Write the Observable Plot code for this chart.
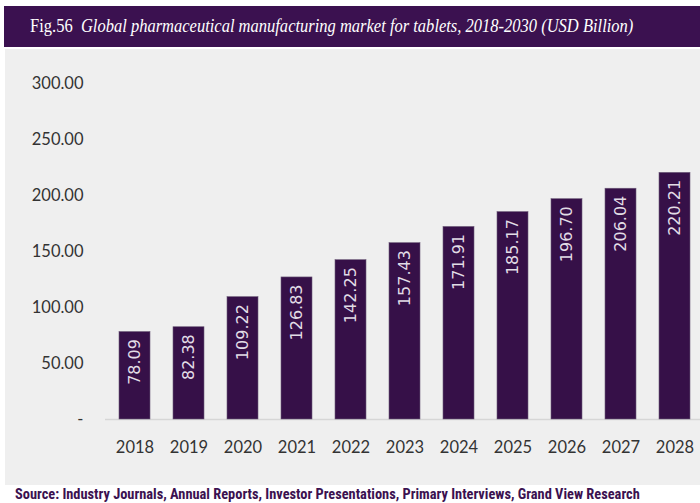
<!DOCTYPE html>
<html>
<head>
<meta charset="utf-8">
<script src="https://cdn.jsdelivr.net/npm/d3@7"></script>
<script src="https://cdn.jsdelivr.net/npm/@observablehq/plot@0.6"></script>
<style>
  html, body { margin: 0; padding: 0; background: #ffffff; width: 700px; height: 503px; overflow: hidden; }
  #title {
    position: absolute; left: 4px; top: 6px; width: 696px; height: 41px;
    background: #3b1150; color: #ffffff;
    font-family: "Liberation Serif", "DejaVu Serif", serif; font-size: 18px;
    line-height: 41px; white-space: nowrap; box-sizing: border-box; padding-left: 26px;
  }
  #title span { display: inline-block; transform: scaleX(0.917); transform-origin: left center; }
  #panel { position: absolute; left: 5px; top: 49px; width: 695px; height: 436px; background: #efefef; }
  #source {
    position: absolute; left: 15px; top: 486px; white-space: nowrap;
    font-family: "Liberation Sans Narrow", "Roboto Condensed", "Liberation Sans", sans-serif;
    font-weight: bold; font-size: 14.4px; color: #3b1150; line-height: 17px;
  }
</style>
</head>
<body>
<div id="title"><span>Fig.56&nbsp; <i>Global pharmaceutical manufacturing market for tablets, 2018-2030 (USD Billion)</i></span></div>
<div id="panel"></div>
<div id="source">Source: Industry Journals, Annual Reports, Investor Presentations, Primary Interviews, Grand View Research</div>
<script>
const years = ["2018","2019","2020","2021","2022","2023","2024","2025","2026","2027","2028"];
const values = [78.09, 82.38, 109.22, 126.83, 142.25, 157.43, 171.91, 185.17, 196.70, 206.04, 220.21];
const yTicks = [0, 50, 100, 150, 200, 250, 300];

const data = years.map((y, i) => ({year: y, value: values[i]}));
const fmt = d3.format(".2f");

const chart = Plot.plot({
  width: 695,
  height: 436,
  marginTop: 34,
  marginBottom: 66,
  marginLeft: 100,
  marginRight: 0,
  style: {background: "transparent", fontFamily: "Lato, 'Open Sans', sans-serif", overflow: "visible"},
  x: {domain: years, range: [88.7, 709.3], padding: 0.43, label: null, axis: null},
  y: {domain: [0, 300], label: null, axis: null},
  marks: [
    Plot.ruleY([0], {stroke: "#d6d6d6", strokeWidth: 1.5}),
    Plot.barY(data, {x: "year", y: "value", fill: "#361048", stroke: "#6d5a78", strokeWidth: 0.6}),
    Plot.text(data, {x: "year", y: "value", text: d => fmt(d.value), rotate: -90, textAnchor: "end",
      dy: 7, fill: "#e2dde6", fontSize: 16, fontFamily: "'DejaVu Sans', Verdana, sans-serif"}),
    Plot.axisX({tickSize: 0, tickPadding: 22, fontSize: 16.5, fill: "#333333", label: null}),
    Plot.axisY({ticks: yTicks, tickSize: 0, tickPadding: 22, fontSize: 16.5, fill: "#333333", label: null,
      tickFormat: d => d === 0 ? "-" : fmt(d)})
  ]
});
document.getElementById("panel").appendChild(chart);
</script>
</body>
</html>
